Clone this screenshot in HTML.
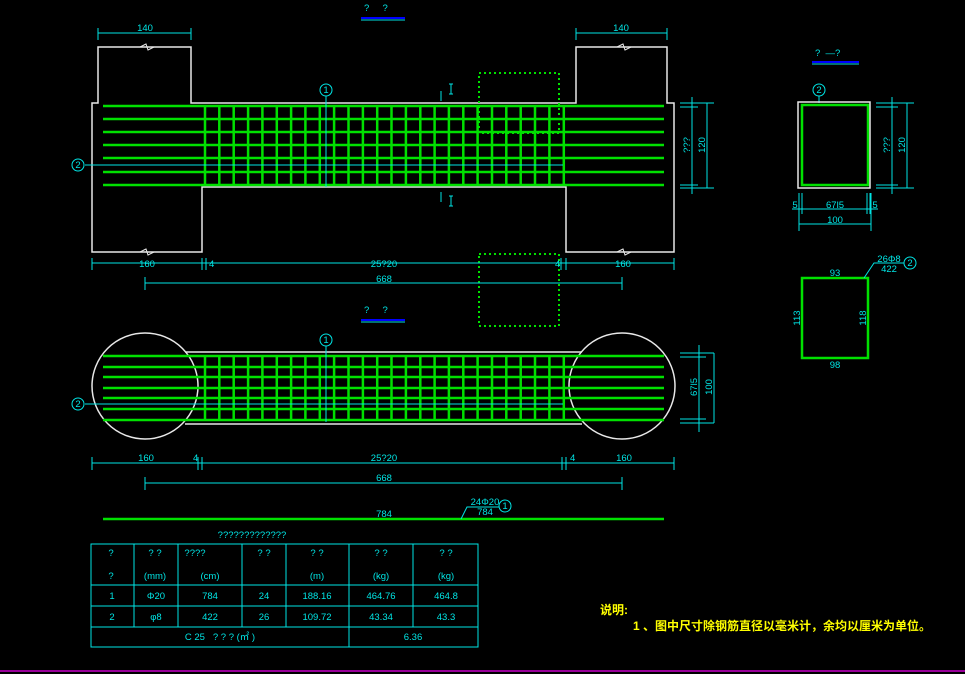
<!DOCTYPE html>
<html><head><meta charset="utf-8"><style>
html,body{margin:0;padding:0;background:#000;width:965px;height:674px;overflow:hidden}
svg{display:block}
text{font-family:"Liberation Sans","Noto Sans CJK SC",sans-serif;fill:#00e5e5;font-size:9.5px}
</style></head><body>
<svg id="s" width="965" height="674" viewBox="0 0 965 674" xmlns="http://www.w3.org/2000/svg">
<g fill="none" stroke-width="1">
<path d="M92,103 L98,103 L98,47 L191,47 L191,103 L576,103 L576,47 L667,47 L667,103 L674,103 L674,252 L566,252 L566,187 L202,187 L202,252 L92,252 Z" stroke="#e8e8e8" stroke-width="1.5"/>
<path d="M140,47 L146,44 L148,50 L154,47" stroke="#e8e8e8"/>
<path d="M617,47 L623,44 L625,50 L631,47" stroke="#e8e8e8"/>
<path d="M140,252 L146,249 L148,255 L154,252" stroke="#e8e8e8"/>
<path d="M617,252 L623,249 L625,255 L631,252" stroke="#e8e8e8"/>
<line x1="185" y1="352" x2="582" y2="352" stroke="#e8e8e8" stroke-width="1.5"/>
<line x1="185" y1="424" x2="582" y2="424" stroke="#e8e8e8" stroke-width="1.5"/>
<circle cx="145" cy="386" r="53" stroke="#e8e8e8" stroke-width="1.5"/>
<circle cx="622" cy="386" r="53" stroke="#e8e8e8" stroke-width="1.5"/>
</g>
<g id="green" stroke="#00e000" stroke-width="2.5" fill="none"></g>
<g id="cy" stroke="#00e5e5" stroke-width="1" fill="none">
<path d="M98,33 H191 M98,28 V40 M191,28 V40 M576,33 H667 M576,28 V40 M667,28 V40"/>
<path d="M92,263 H674 M92,258 V270 M202,258 V270 M206,258 V270 M561,258 V270 M566,258 V270 M674,258 V270"/>
<path d="M145,283 H622 M145,277 V290 M622,277 V290"/>
<path d="M92,463 H674 M92,457 V470 M198,457 V470 M202,457 V470 M562,457 V470 M566,457 V470 M674,457 V470"/>
<path d="M145,483 H622 M145,477 V490 M622,477 V490"/>
<path d="M85,165 H563 M326,96 V187 M85,404 H563 M326,346 V422"/>
<path d="M441,91 V101 M441,192 V202 M451,84 V94 M449,84 H453 M449,94 H453 M451,196 V206 M449,196 H453 M449,206 H453"/>
<circle cx="78" cy="165" r="6"/><circle cx="326" cy="90" r="6"/>
<circle cx="78" cy="404" r="6"/><circle cx="326" cy="340" r="6"/>
<line x1="361" y1="18" x2="405" y2="18" stroke="#0000ff" stroke-width="2"/><line x1="361" y1="20" x2="405" y2="20"/>
<line x1="361" y1="320" x2="405" y2="320" stroke="#0000ff" stroke-width="2"/><line x1="361" y1="322" x2="405" y2="322"/>
<line x1="812" y1="62" x2="859" y2="62" stroke="#0000ff" stroke-width="2"/><line x1="812" y1="64" x2="859" y2="64"/>
<path d="M680,103 H714 M680,107 H698 M680,185 H698 M680,188 H714 M692,97 V194 M707,103 V188"/>
<path d="M876,103 H914 M876,107 H898 M876,185 H898 M876,188 H914 M892,97 V194 M907,103 V188"/>
<path d="M792,209 H878 M799,193 V214 M802,193 V214 M867,193 V214 M870,193 V214 M799,224 H871 M799,193 V231 M871,193 V231"/>
<path d="M680,353 H714 M680,357 H706 M680,419 H706 M680,423 H714 M699,345 V432 M714,353 V423"/>
<circle cx="819" cy="90" r="6"/><line x1="819" y1="96" x2="819" y2="103"/>
<path d="M864,278 L874,263 H904"/><circle cx="910" cy="263" r="6"/>
<path d="M461,519 L467,507 H499"/><circle cx="505" cy="506" r="6"/>
<rect x="91" y="544" width="387" height="103"/>
<path d="M91,585 H478 M91,606 H478 M91,627 H478 M134,544 V627 M178,544 V627 M242,544 V627 M286,544 V627 M349,544 V647 M413,544 V627"/>
</g>
<g stroke="#cc00cc" stroke-width="1.5"><line x1="0" y1="671" x2="965" y2="671"/></g>
<g>
<text x="364" y="11" font-size="10">?&#160;&#160;&#160;&#160;&#160;?</text>
<text x="364" y="313" font-size="10">?&#160;&#160;&#160;&#160;&#160;?</text>
<text x="815" y="56" font-size="10">?&#160;&#160;—?</text>
<text x="145" y="31" text-anchor="middle">140</text><text x="621" y="31" text-anchor="middle">140</text>
<text x="147" y="267" text-anchor="middle">160</text><text x="384" y="267" text-anchor="middle">25?20</text><text x="209" y="267">4</text><text x="555" y="267">4</text><text x="623" y="267" text-anchor="middle">160</text>
<text x="384" y="282" text-anchor="middle">668</text>
<text x="146" y="461" text-anchor="middle">160</text><text x="193" y="461">4</text><text x="384" y="461" text-anchor="middle">25?20</text><text x="570" y="461">4</text><text x="624" y="461" text-anchor="middle">160</text>
<text x="384" y="481" text-anchor="middle">668</text>
<text x="384" y="517" text-anchor="middle">784</text>
<text x="485" y="505" text-anchor="middle">24Φ20</text><text x="485" y="515" text-anchor="middle">784</text>
<text x="326" y="93" text-anchor="middle" font-size="8">1</text><text x="78" y="168" text-anchor="middle" font-size="8">2</text>
<text x="326" y="343" text-anchor="middle" font-size="8">1</text><text x="78" y="407" text-anchor="middle" font-size="8">2</text>
<text x="505" y="509" text-anchor="middle" font-size="8">1</text><text x="819" y="93" text-anchor="middle" font-size="8">2</text><text x="910" y="266" text-anchor="middle" font-size="8">2</text>
<text x="835" y="208" text-anchor="middle">67l5</text><text x="795" y="208" text-anchor="middle">5</text><text x="875" y="208" text-anchor="middle">5</text>
<text x="835" y="223" text-anchor="middle">100</text>
<text x="835" y="276" text-anchor="middle">93</text><text x="835" y="368" text-anchor="middle">98</text>
<text x="889" y="262" text-anchor="middle">26Φ8</text><text x="889" y="272" text-anchor="middle">422</text>
<text transform="translate(800,318) rotate(-90)" text-anchor="middle">113</text>
<text transform="translate(866,318) rotate(-90)" text-anchor="middle">118</text>
<text transform="translate(690,145) rotate(-90)" text-anchor="middle">???</text>
<text transform="translate(705,145) rotate(-90)" text-anchor="middle">120</text>
<text transform="translate(890,145) rotate(-90)" text-anchor="middle">???</text>
<text transform="translate(905,145) rotate(-90)" text-anchor="middle">120</text>
<text transform="translate(697,387) rotate(-90)" text-anchor="middle">67l5</text>
<text transform="translate(712,387) rotate(-90)" text-anchor="middle">100</text>
<text x="252" y="538" text-anchor="middle" font-size="11">?????????????</text>
<g text-anchor="middle">
<text x="111" y="556">?</text><text x="111" y="579">?</text>
<text x="155" y="556">? ?</text><text x="155" y="579">(mm)</text>
<text x="195" y="556">????</text><text x="210" y="579">(cm)</text>
<text x="264" y="556">? ?</text>
<text x="317" y="556">? ?</text><text x="317" y="579">(m)</text>
<text x="381" y="556">? ?</text><text x="381" y="579">(kg)</text>
<text x="446" y="556">? ?</text><text x="446" y="579">(kg)</text>
<text x="112" y="599">1</text><text x="156" y="599">Φ20</text><text x="210" y="599">784</text><text x="264" y="599">24</text><text x="317" y="599">188.16</text><text x="381" y="599">464.76</text><text x="446" y="599">464.8</text>
<text x="112" y="620">2</text><text x="156" y="620">φ8</text><text x="210" y="620">422</text><text x="264" y="620">26</text><text x="317" y="620">109.72</text><text x="381" y="620">43.34</text><text x="446" y="620">43.3</text>
<text x="220" y="640">C 25&#160;&#160;&#160;? ? ? (㎡ )</text><text x="413" y="640">6.36</text>
</g>
<text x="600" y="614" style="fill:#ffff00;font-size:12px;font-weight:bold">说明:</text>
<text x="633" y="630" style="fill:#ffff00;font-size:12px;font-weight:bold">1 、图中尺寸除钢筋直径以毫米计，余均以厘米为单位。</text>
</g>
</svg>
<script>
var g=document.getElementById('green'),h='';
var ys=[106,119,132,145,158,172,185];
ys.forEach(function(y){h+='<line x1="103" y1="'+y+'" x2="664" y2="'+y+'"/>';});
var yp=[356,367,377,388,398,409,420];
yp.forEach(function(y){h+='<line x1="103" y1="'+y+'" x2="664" y2="'+y+'"/>';});
for(var i=0;i<26;i++){var x=(205+i*14.35).toFixed(1);h+='<line x1="'+x+'" y1="106" x2="'+x+'" y2="185"/><line x1="'+x+'" y1="356" x2="'+x+'" y2="420"/>';}
h+='<line x1="103" y1="519" x2="664" y2="519"/>';
h+='<rect x="802" y="105" width="66" height="80"/><rect x="802" y="278" width="66" height="80"/>';
h+='<rect x="479" y="73" width="80" height="60" stroke-width="2" stroke-dasharray="2 3"/>';
h+='<rect x="479" y="254" width="80" height="72" stroke-width="2" stroke-dasharray="2 3"/>';
g.innerHTML=h;
</script>
<svg style="position:absolute;left:0;top:0" width="965" height="674"><rect x="798" y="102" width="72" height="86" fill="none" stroke="#e8e8e8" stroke-width="1.5"/></svg>
</body></html>
